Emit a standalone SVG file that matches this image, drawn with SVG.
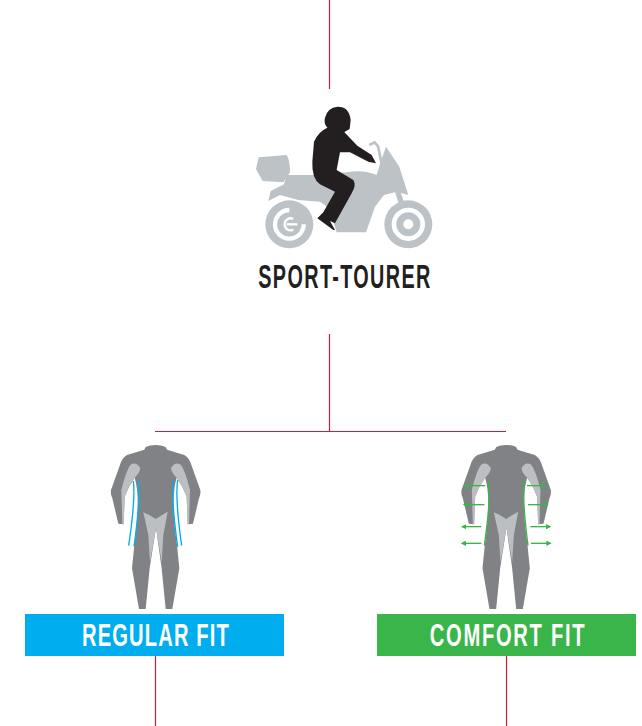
<svg xmlns="http://www.w3.org/2000/svg" width="642" height="726" viewBox="0 0 642 726">
<style>
.ln{stroke:#cf1f38;stroke-width:1.2;fill:none}
.t{font-family:"Liberation Sans",sans-serif;font-weight:700;text-anchor:middle}
.lb{font-size:32px;fill:#fff}
.g{fill:#808285}
.l{fill:#bcbfc2}
.b{fill:none;stroke:#00aeef;stroke-width:4}
.gr{fill:none;stroke:#39b54a;stroke-width:4}
.bk{fill:#bcc2c6}
</style>
<defs>
<marker id="ah" markerWidth="4" markerHeight="4" refX="3" refY="2" orient="auto"><path d="M0 0L4 2L0 4Z" fill="#39b54a"/></marker>
<g id="suit">
<path class="g" d="M182 30Q200 30 212 36L216 44L268 60Q283 68 290 92L316 165Q318 178 312 190L294 266L278 268L275 185L262 155L245 128Q226 190 246 330L253 400L232 522H212L200 400L183 278L164 400L152 522H132L111 400L118 330Q138 190 119 128L102 155L89 185L86 268L70 266L52 190Q46 178 48 165L74 92Q81 68 96 60L148 44L152 36Q164 30 182 30Z"/>
<path class="l" d="M228 100Q240 78 258 90Q270 105 285 165L282 268H278L275 185L262 155L245 128Q230 115 228 100Z"/>
<path class="l" d="M136 100Q124 78 106 90Q94 105 79 165L82 268H86L89 185L102 155L119 128Q134 115 136 100Z"/>
<path class="l" d="M145 232Q165 240 182 252Q200 240 218 230L214 252L205 300L200 382L183 278L165 382L160 300Z"/>
</g>
</defs>
<g id="connectors">
<path class="ln" d="M329.500 0V89M329.500 334V431.500M155 431.500H506M155.500 656V726M506.500 656V726"/>
</g>
<g id="sport-tourer">
<g transform="translate(240 95) scale(.3333)">
<path class="bk" d="M56 187L140 180Q150 195 150 232L130 262L68 258L48 222Z"/>
<path class="bk" d="M85 318L92 288L132 268L140 240L220 240L320 232Q370 222 410 240L422 200L438 155L478 215L505 300L470 290L432 300L405 335L378 412L290 412L268 340L240 320L175 315L120 300Z"/>
<path d="M388 150L404 142L414 154L425 205" fill="none" stroke="#bcc2c6" stroke-width="8"/>
<path d="M470 280L505 388" fill="none" stroke="#bcc2c6" stroke-width="16"/>
<circle cx="148" cy="388" r="72" class="bk"/>
<path d="M148 345A43 43 0 1 0 191 388" fill="none" stroke="#fff" stroke-width="13"/>
<path d="M160 372A18 18 0 1 0 160 404" fill="none" stroke="#fff" stroke-width="7"/>
<path d="M140 388H172" stroke="#fff" stroke-width="7"/>
<circle cx="505" cy="388" r="72" class="bk"/>
<circle cx="505" cy="388" r="43" fill="none" stroke="#fff" stroke-width="14"/>
<circle cx="505" cy="388" r="15" fill="#fff"/>
<g fill="#231f20">
<path d="M293 35Q328 35 332 75L329 102L312 112L280 112L262 98Q250 85 255 68Q262 38 293 35Z"/>
<path d="M262 98L312 110L352 152L395 180L408 205L385 200L330 172L300 172L290 225L340 255Q350 270 335 295L285 385L270 378L285 405L280 405L232 370L250 352L285 290L240 268Q215 250 217 200L222 140Q235 110 262 98Z"/>
</g>
</g>
<text class="t" transform="translate(345 288) scale(.6 1)" font-size="33" letter-spacing="2.300" fill="#231f20">SPORT-TOURER</text>
</g>
<g id="regular-fit">
<use href="#suit" transform="translate(95 435) scale(.3333)"/>
<g transform="translate(95 435) scale(.3333)">
<path class="b" d="M115 138Q122 190 101 332M130 138Q137 190 117 335M235 138Q228 190 248 335M248 135Q240 190 260 332"/>
</g>
<rect x="25" y="614" width="259" height="42" fill="#00aeef"/>
<text class="t lb" transform="translate(156 646) scale(.63 1)" letter-spacing="1.800">REGULAR FIT</text>
</g>
<g id="comfort-fit">
<use href="#suit" transform="translate(445.500 435) scale(.3333)"/>
<g transform="translate(446 435) scale(.3333)">
<path class="gr" d="M128 140Q135 190 115 332M234 135Q228 190 246 332"/>
<path class="gr" marker-end="url(#ah)" d="M118 152H58"/>
<path class="gr" marker-end="url(#ah)" d="M115 209H54"/>
<path class="gr" marker-end="url(#ah)" d="M106 275H49"/>
<path class="gr" marker-end="url(#ah)" d="M106 325H48"/>
<path class="gr" marker-end="url(#ah)" d="M243 152H300"/>
<path class="gr" marker-end="url(#ah)" d="M246 209H304"/>
<path class="gr" marker-end="url(#ah)" d="M253 275H312"/>
<path class="gr" marker-end="url(#ah)" d="M255 325H313"/>
</g>
<rect x="377" y="614" width="259" height="42" fill="#39b54a"/>
<text class="t lb" transform="translate(508 646) scale(.63 1)" letter-spacing="2.700">COMFORT FIT</text>
</g>
</svg>
